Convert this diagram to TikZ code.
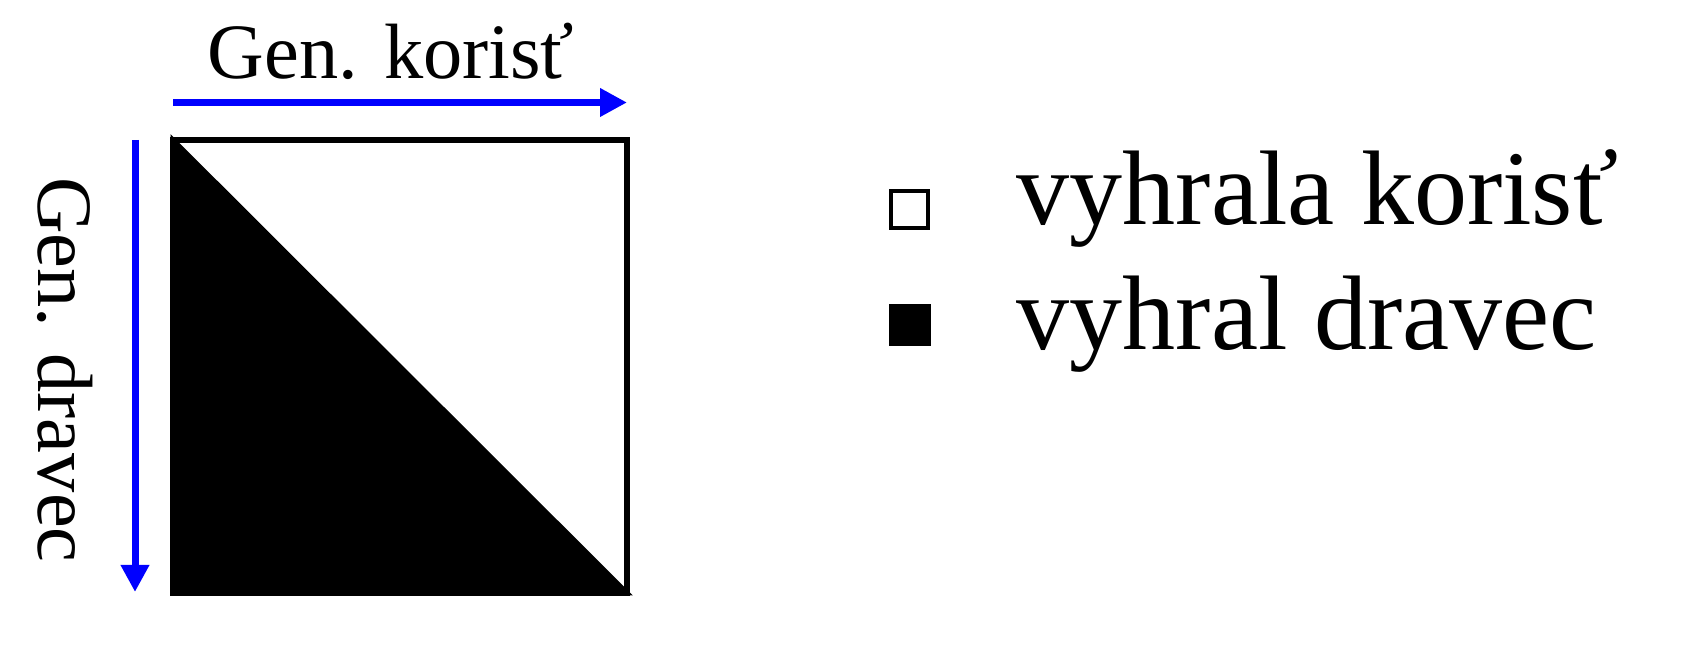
\documentclass[tikz,border=0pt]{standalone}
\usepackage{fontspec}
\setmainfont{Liberation Serif}
\usetikzlibrary{arrows.meta}
\definecolor{axisblue}{RGB}{0,0,255}
\begin{document}
\begin{tikzpicture}[x=0.25pt,y=-0.25pt,
  axisarrow/.style={draw=axisblue, line width=1.75pt, -{Triangle[length=6.75pt,width=6.75pt]}},
  axislabel/.style={inner sep=0pt, anchor=base, font=\fontsize{19.6}{23}\selectfont},
  legendlabel/.style={inner sep=0pt, anchor=base west, font=\fontsize{26.5}{32}\selectfont},
  legendmark/.style={inner sep=0pt, minimum width=9.25pt, minimum height=9.25pt, line width=1pt}]
\useasboundingbox (0,0) rectangle (1704,671);
% square corners
\coordinate (tl) at (173,140);
\coordinate (tr) at (627,140);
\coordinate (br) at (627,593);
\coordinate (bl) at (173,593);
\draw[line width=1.5pt] (tl) rectangle (br);
\filldraw[line width=1.2pt, miter limit=10] (tl) -- (br) -- (bl) -- cycle;
% axis arrows
\coordinate (hs) at (173,102.5);
\coordinate (he) at (627,102.5);
\coordinate (vs) at (135,140);
\coordinate (ve) at (135,592);
\draw[axisarrow] (hs) -- (he);
\draw[axisarrow] (vs) -- (ve);
% axis labels
\node[axislabel] (lk) at (391,79) {Gen. korisť};
\node[axislabel, rotate=-90] (ld) at (38,370) {Gen. dravec};
% legend
\node[legendmark, draw, fill=white] (mk) at (909.5,210) {};
\node[legendmark, fill=black, minimum width=10.5pt, minimum height=10.5pt] (md) at (910,325) {};
\node[legendlabel] (tk) at (1016,225) {vyhrala korisť};
\node[legendlabel] (td) at (1016,350) {vyhral dravec};
\end{tikzpicture}
\end{document}
